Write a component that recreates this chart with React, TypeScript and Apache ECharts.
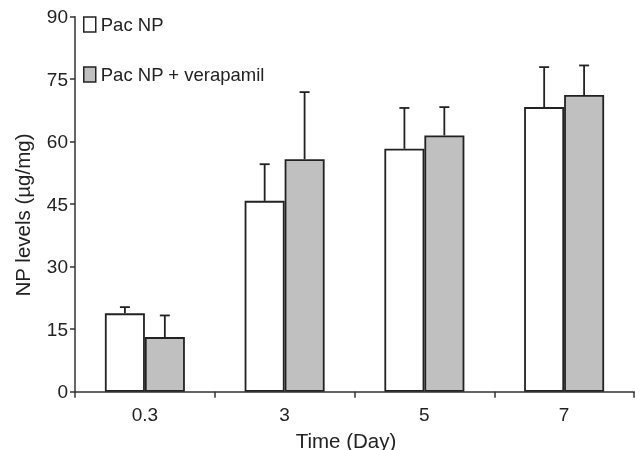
import React, { useEffect, useRef } from "react";
import * as echarts from "echarts";

const categories = ["0.3", "3", "5", "7"];
const pacNP = [18.8, 45.8, 58.3, 68.3];
const pacNPErr = [1.5, 8.8, 9.8, 9.6];
const pacNPVer = [13.1, 55.8, 61.5, 71.2];
const pacNPVerErr = [5.2, 16.1, 6.8, 7.1];
const yTicks = [0, 15, 30, 45, 60, 75, 90];

const FONT = "Liberation Sans, Arial, Helvetica, sans-serif";

function errorSeries(name: string, vals: number[], errs: number[], sign: number) {
  return {
    type: "custom",
    name: name + " err",
    z: 1,
    silent: true,
    data: vals.map((v, i) => [i, v, v + errs[i]]),
    renderItem: (params: any, api: any) => {
      const i = api.value(0);
      const lo = api.coord([i, api.value(1)]);
      const hi = api.coord([i, api.value(2)]);
      const bw = api.size([1, 0])[0] * (40 / 140);
      const x = lo[0] + sign * bw / 2;
      const cap = 5;
      return {
        type: "group",
        children: [
          { type: "line", shape: { x1: x, y1: lo[1], x2: x, y2: hi[1] }, style: { stroke: "#222", lineWidth: 1.8 } },
          { type: "line", shape: { x1: x - cap, y1: hi[1], x2: x + cap, y2: hi[1] }, style: { stroke: "#222", lineWidth: 1.8 } },
        ],
      };
    },
  };
}

export default function App() {
  const ref = useRef<HTMLDivElement>(null);
  useEffect(() => {
    if (!ref.current) return;
    const chart = echarts.init(ref.current, undefined, { renderer: "svg" });
    chart.setOption({
      animation: false,
      textStyle: { fontFamily: FONT },
      grid: { left: 75, right: 1, top: 16.7, bottom: 58.3, containLabel: false },
      legend: {
        orient: "vertical",
        left: 83,
        top: 15,
        padding: 0,
        itemGap: 31,
        itemWidth: 12,
        itemHeight: 15,
        textStyle: { fontSize: 18.5, color: "#222", fontFamily: FONT },
        data: [
          { name: "Pac NP", icon: "rect", itemStyle: { color: "#fff", borderColor: "#222", borderWidth: 1.5 } },
          { name: "Pac NP + verapamil", icon: "rect", itemStyle: { color: "#c0c0c0", borderColor: "#222", borderWidth: 1.5 } },
        ],
      },
      graphic: [
        {
          type: "text",
          x: 346,
          y: 440,
          style: { text: "Time (Day)", fontSize: 20.5, fill: "#222", fontFamily: FONT, align: "center", verticalAlign: "middle" },
        },
        {
          type: "text",
          x: 22,
          y: 215,
          rotation: Math.PI / 2,
          style: { text: "NP levels (µg/mg)", fontSize: 20.5, fill: "#222", fontFamily: FONT, align: "center", verticalAlign: "middle" },
        },
      ],
      xAxis: {
        type: "category",
        data: categories,
        axisLine: { lineStyle: { color: "#333", width: 1.5 } },
        axisTick: { show: true, length: 6, lineStyle: { color: "#333", width: 1.5 } },
        axisLabel: { fontSize: 19, color: "#222", margin: 13, fontFamily: FONT },
      },
      yAxis: {
        type: "value",
        min: 0,
        max: 90,
        interval: 15,
        axisLine: { show: true, lineStyle: { color: "#333", width: 1.5 } },
        axisTick: { show: true, length: 5, lineStyle: { color: "#333", width: 1.5 } },
        axisLabel: {
          fontSize: 19,
          color: "#222",
          margin: 7,
          fontFamily: FONT,
          formatter: (v: number) => (yTicks.includes(v) ? String(v) : ""),
        },
        splitLine: { show: false },
      },
      series: [
        {
          name: "Pac NP",
          type: "bar",
          data: pacNP,
          barWidth: 40,
          barGap: "0%",
          z: 2,
          itemStyle: { color: "#fff", borderColor: "#222", borderWidth: 1.8 },
        },
        {
          name: "Pac NP + verapamil",
          type: "bar",
          data: pacNPVer,
          barWidth: 40,
          barGap: "0%",
          z: 2,
          itemStyle: { color: "#c0c0c0", borderColor: "#222", borderWidth: 1.8 },
        },
        errorSeries("Pac NP", pacNP, pacNPErr, -1),
        errorSeries("Pac NP + verapamil", pacNPVer, pacNPVerErr, 1),
      ],
    });
    return () => chart.dispose();
  }, []);
  return <div ref={ref} style={{ position: "fixed", left: 0, top: 0, width: 635, height: 450 }} />;
}
